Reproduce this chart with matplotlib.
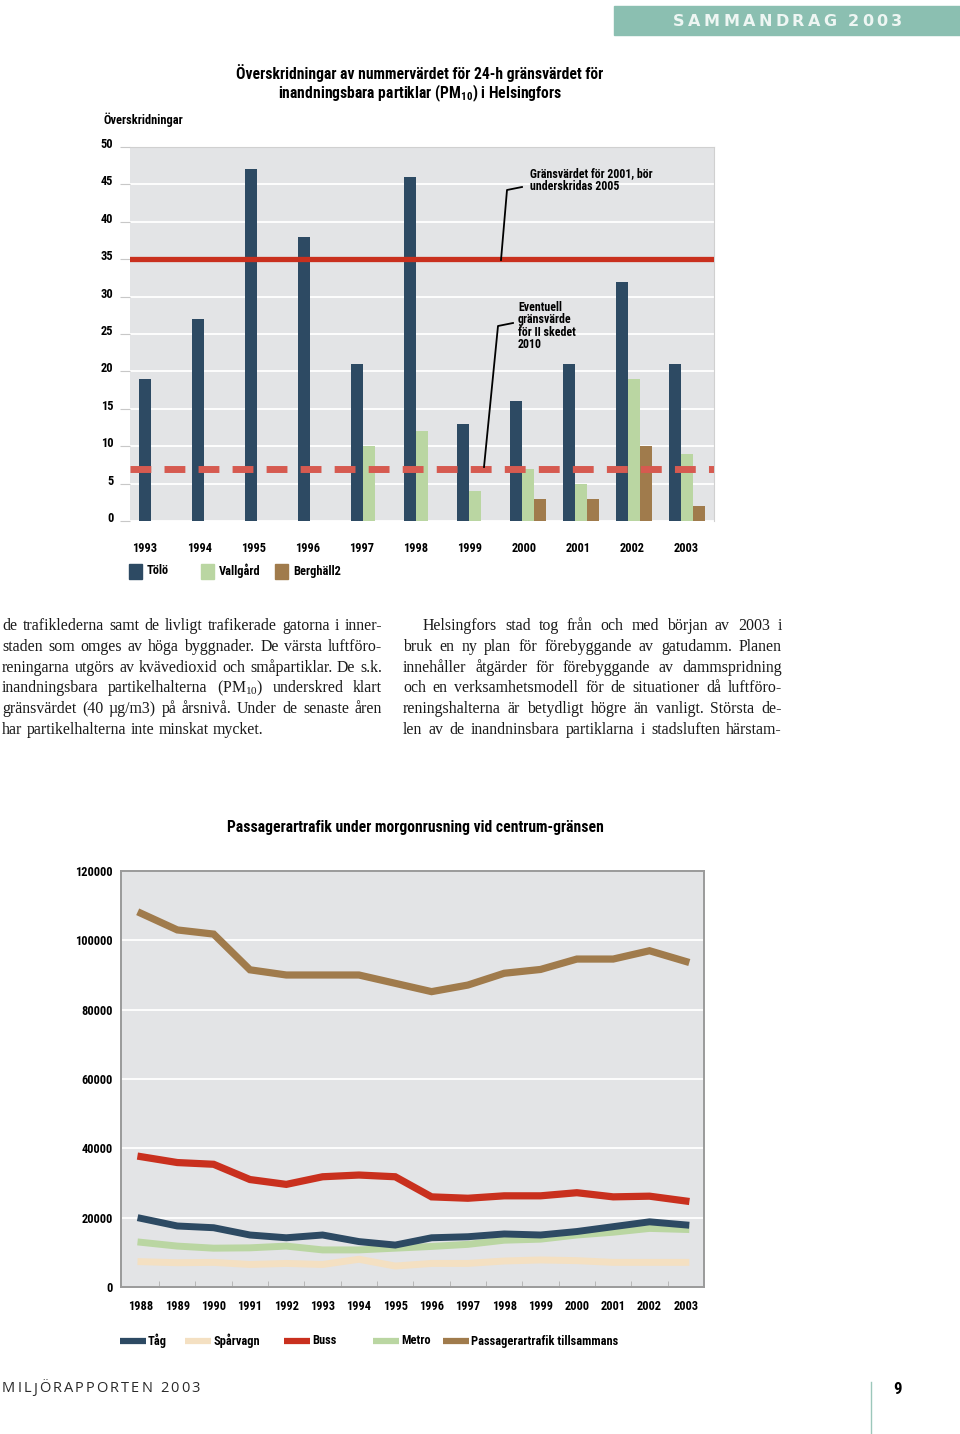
import numpy as np
import matplotlib
matplotlib.use('Agg')
import matplotlib.pyplot as plt
from matplotlib import font_manager as fm
from matplotlib.lines import Line2D
from matplotlib.patches import Rectangle
from matplotlib.transforms import ScaledTranslation

# --- chart 1: exceedances of the 24-h PM10 limit
years_pm = ['1993', '1994', '1995', '1996', '1997', '1998', '1999', '2000', '2001', '2002', '2003']
tolo = [19, 27, 47, 38, 21, 46, 13, 16, 21, 32, 21]
vallgard = [np.nan, np.nan, np.nan, np.nan, 10, 12, 4, 7, 5, 19, 9]
berghall = [np.nan, np.nan, np.nan, np.nan, np.nan, np.nan, np.nan, 3, 3, 10, 2]
limit_2005 = 35
limit_2010 = 7

# --- chart 2: passenger traffic at the city-centre boundary
years_tr = ['1988', '1989', '1990', '1991', '1992', '1993', '1994', '1995',
            '1996', '1997', '1998', '1999', '2000', '2001', '2002', '2003']
tag = [19800, 17600, 17100, 15000, 14200, 15000, 13100, 12100, 14200, 14500, 15300, 15000, 16000, 17400, 18800, 17900]
sparvagn = [7300, 7000, 7100, 6500, 6800, 6500, 8000, 6050, 6800, 6800, 7500, 7800, 7600, 7100, 7100, 7100]
buss = [37600, 35900, 35400, 31000, 29600, 31800, 32300, 31800, 26000, 25600, 26300, 26300, 27200, 26000, 26200, 24800]
metro = [12900, 11800, 11200, 11300, 11800, 10700, 10700, 11200, 11700, 12300, 13500, 13800, 15000, 15800, 16900, 16600]
total = [107800, 103000, 101800, 91500, 90000, 90000, 90000, 87600, 85200, 87100, 90500, 91600, 94600, 94600, 97000, 93900]

BLUE = '#2d4a63'
GREEN = '#bad6a2'
BROWN = '#a07b4c'
RED = '#c9301e'
BEIGE = '#f4e0c2'
BG = '#e3e4e6'
TEAL = '#8bbfb1'


def pick_font(names):
    for n in names:
        try:
            fm.findfont(fm.FontProperties(family=n), fallback_to_default=False)
            return n
        except ValueError:
            pass
    return 'DejaVu Sans'


COND = pick_font(['Roboto Condensed', 'Liberation Sans Narrow', 'Arial Narrow', 'Liberation Sans'])
SERIF = pick_font(['Liberation Serif', 'DejaVu Serif'])
plt.rcParams['mathtext.default'] = 'regular'

W, H = 960, 1434
fig = plt.figure(figsize=(9.6, 14.34), dpi=100)
fig.patch.set_facecolor('white')
renderer = fig.canvas.get_renderer()


def fx(x):
    return x / W


def fy(y):
    return 1 - y / H


def rect(l, t, r, b):
    return [l / W, 1 - b / H, (r - l) / W, (b - t) / H]


def ftext(x, y, s, **kw):
    return fig.text(fx(x), fy(y), s, **kw)


def fit_size(s, target, family, weight='bold'):
    t = fig.text(0, 0, s, family=family, weight=weight, fontsize=10)
    w = t.get_window_extent(renderer).width
    t.remove()
    return 10 * target / w


LAB = fit_size('Överskridningar', 80, COND)
TITLE = fit_size('Överskridningar av nummervärdet för 24-h gränsvärdet för', 367, COND)
NOTE = fit_size('Gränsvärdet för 2001, bör', 123, COND)

# ================= chart 1 =================
ax1 = fig.add_axes(rect(130, 147, 714, 521))
ax1.set_facecolor(BG)
idx = np.arange(len(years_pm))
bw = 0.226
ax1.bar(idx, tolo, bw, color=BLUE, zorder=2)
ax1.bar(idx + bw, vallgard, bw, color=GREEN, zorder=2)
ax1.bar(idx + 2 * bw, berghall, bw, color=BROWN, zorder=2)
ax1.axhline(limit_2005, color=RED, lw=3.8, zorder=4)
ax1.axhline(limit_2010, color='#d65a50', lw=5, dashes=(3.0, 1.9), zorder=4)
ax1.set_xlim(-0.283, 10.73)
ax1.set_ylim(0, 50)
ax1.set_yticks(range(0, 51, 5))
ax1.yaxis.grid(True, color='white', lw=1.3)
ax1.set_axisbelow(True)
ax1.set_xticks(idx * 1.02)
ax1.set_xticklabels(years_pm, family=COND, weight='bold', fontsize=LAB)
ax1.tick_params(axis='x', length=0, pad=15)
ax1.tick_params(axis='y', length=7, color='#c8c8c8', width=0.8, pad=5)
for lab in ax1.get_yticklabels():
    lab.set_family(COND)
    lab.set_weight('bold')
    lab.set_fontsize(LAB)
    lab.set_transform(lab.get_transform() + ScaledTranslation(0, 0.04, fig.dpi_scale_trans))
for s in ['left', 'bottom']:
    ax1.spines[s].set_visible(False)
for s in ['top', 'right']:
    ax1.spines[s].set_color('#d0d0d0')
    ax1.spines[s].set_linewidth(0.8)

ftext(420, 84, 'Överskridningar av nummervärdet för 24-h gränsvärdet för\n'
      'inandningsbara partiklar (PM$_{10}$) i Helsingfors',
      family=COND, weight='bold', fontsize=TITLE, ha='center', va='center',
      linespacing=1.05)
ftext(103, 120, 'Överskridningar', family=COND, weight='bold', fontsize=LAB, va='center')

ftext(530, 180, 'Gränsvärdet för 2001, bör\nunderskridas 2005', family=COND,
      weight='bold', fontsize=NOTE, va='center', linespacing=1.0)
ftext(518, 326, 'Eventuell\ngränsvärde\nför II skedet\n2010', family=COND,
      weight='bold', fontsize=NOTE, va='center', linespacing=0.95)
for pts in ([(501, 260), (507, 190), (522, 187)], [(484, 467), (498, 326), (513, 323)]):
    xs = [fx(p[0]) for p in pts]
    ys = [fy(p[1]) for p in pts]
    fig.add_artist(Line2D(xs, ys, color='black', lw=1.3, zorder=10))

for x0, col, name in [(129, BLUE, 'Tölö'), (201, GREEN, 'Vallgård'), (275, BROWN, 'Berghäll2')]:
    fig.add_artist(Rectangle((fx(x0), fy(579)), 13 / W, 15 / H, color=col,
                             transform=fig.transFigure))
    ftext(x0 + 18, 571, name, family=COND, weight='bold', fontsize=LAB, va='center')

# ================= body text =================
left_lines = [
    'de trafiklederna samt de livligt trafikerade gatorna i inner-',
    'staden som omges av höga byggnader. De värsta luftföro-',
    'reningarna utgörs av kvävedioxid och småpartiklar. De s.k.',
    'inandningsbara partikelhalterna (PM$_{10}$) underskred klart',
    'gränsvärdet (40 µg/m3) på årsnivå. Under de senaste åren',
    'har partikelhalterna inte minskat mycket.',
]
right_lines = [
    'Helsingfors stad tog från och med början av 2003 i',
    'bruk en ny plan för förebyggande av gatudamm. Planen',
    'innehåller åtgärder för förebyggande av dammspridning',
    'och en verksamhetsmodell för de situationer då luftföro-',
    'reningshalterna är betydligt högre än vanligt. Största de-',
    'len av de inandninsbara partiklarna i stadsluften härstam-',
]

# one common body size: the largest that lets every justified line fit
body_fs = min(
    [fit_size(l, 376, SERIF, 'normal') for l in left_lines[:-1]] +
    [fit_size(l, 376, SERIF, 'normal') for l in right_lines[1:]] +
    [fit_size(right_lines[0], 356, SERIF, 'normal')])


def justify(lines, x0, x1, y0, dy, indent=0, last_free=False):
    for k, line in enumerate(lines):
        xs = x0 + (indent if k == 0 else 0)
        words = line.split(' ')
        y = y0 + k * dy
        arts = [ftext(0, y, w, family=SERIF, fontsize=body_fs, color='#1a1a1a',
                      va='baseline') for w in words]
        widths = [a.get_window_extent(renderer).width for a in arts]
        if last_free and k == len(lines) - 1:
            gap = 0.27 * body_fs * 100 / 72
        else:
            gap = (x1 - xs - sum(widths)) / max(len(words) - 1, 1)
        x = xs
        for a, w in zip(arts, widths):
            a.set_position((fx(x), fy(y)))
            x += w + gap


justify(left_lines, 2, 382, 630, 20.8, last_free=True)
justify(right_lines, 403, 782, 630, 20.8, indent=20)

# ================= chart 2 =================
ax2 = fig.add_axes(rect(121, 871, 704, 1287))
ax2.set_facecolor(BG)
xi = np.arange(len(years_tr))
ax2.plot(xi, sparvagn, color=BEIGE, lw=5, solid_joinstyle='miter', zorder=3)
ax2.plot(xi, metro, color=GREEN, lw=5, solid_joinstyle='miter', zorder=3)
ax2.plot(xi, tag, color=BLUE, lw=5, solid_joinstyle='miter', zorder=4)
ax2.plot(xi, buss, color=RED, lw=5.2, solid_joinstyle='miter', zorder=4)
ax2.plot(xi, total, color=BROWN, lw=5.2, solid_joinstyle='miter', zorder=4)
ax2.set_xlim(-0.55, 15.5)
ax2.set_ylim(0, 120000)
ax2.set_yticks(range(0, 120001, 20000))
ax2.set_yticklabels([str(v) for v in range(0, 120001, 20000)], family=COND,
                    weight='bold', fontsize=LAB)
ax2.yaxis.grid(True, color='white', lw=1.3)
ax2.set_axisbelow(True)
ax2.set_xticks(xi)
ax2.set_xticklabels(years_tr, family=COND, weight='bold', fontsize=LAB)
ax2.set_xticks(xi[:-1] + 0.5, minor=True)
ax2.tick_params(axis='x', which='major', length=0, pad=9)
ax2.tick_params(axis='x', which='minor', length=4, direction='in', color='#b0b0b0')
ax2.tick_params(axis='y', length=0, pad=6)
for s in ax2.spines.values():
    s.set_color('#9a9a9a')
    s.set_linewidth(1.4)

ftext(415, 828, 'Passagerartrafik under morgonrusning vid centrum-gränsen',
      family=COND, weight='bold', fontsize=TITLE, ha='center', va='center')

for x0, col, name in [(120, BLUE, 'Tåg'), (185, BEIGE, 'Spårvagn'), (284, RED, 'Buss'),
                      (373, GREEN, 'Metro'), (443, BROWN, 'Passagerartrafik tillsammans')]:
    fig.add_artist(Line2D([fx(x0), fx(x0 + 26)], [fy(1341), fy(1341)], color=col, lw=4.5,
                          solid_capstyle='butt'))
    ftext(x0 + 28, 1341, name, family=COND, weight='bold', fontsize=LAB, va='center')

# ================= page furniture =================
fig.add_artist(Rectangle((fx(614), fy(35)), (W - 614) / W, 29 / H, color=TEAL,
                         transform=fig.transFigure))


def spaced(x0, x1, y, s, **kw):
    arts = []
    for ch in s:
        arts.append(ftext(0, y, ch, va='center', **kw))
    widths = [a.get_window_extent(renderer).width if ch != ' ' else 4.0
              for a, ch in zip(arts, s)]
    track = (x1 - x0 - sum(widths)) / (len(s) - 1)
    x = x0
    for a, w in zip(arts, widths):
        a.set_position((fx(x), fy(y)))
        x += w + track


spaced(673, 902, 21, 'SAMMANDRAG 2003', family='DejaVu Sans', weight='bold',
       fontsize=11.5, color='#eef6f3')
spaced(2, 200, 1389, 'MILJÖRAPPORTEN 2003', family=pick_font(['Open Sans', 'DejaVu Sans']),
       fontsize=10.5, color='#2a2a2a')
ftext(893, 1389, '9', family=COND, weight='bold', fontsize=LAB * 1.35, va='center')
fig.add_artist(Line2D([fx(871), fx(871)], [fy(1382), fy(1434)], color='#9cc7bb', lw=1))

fig.savefig('out.png', dpi=100, facecolor='white')
